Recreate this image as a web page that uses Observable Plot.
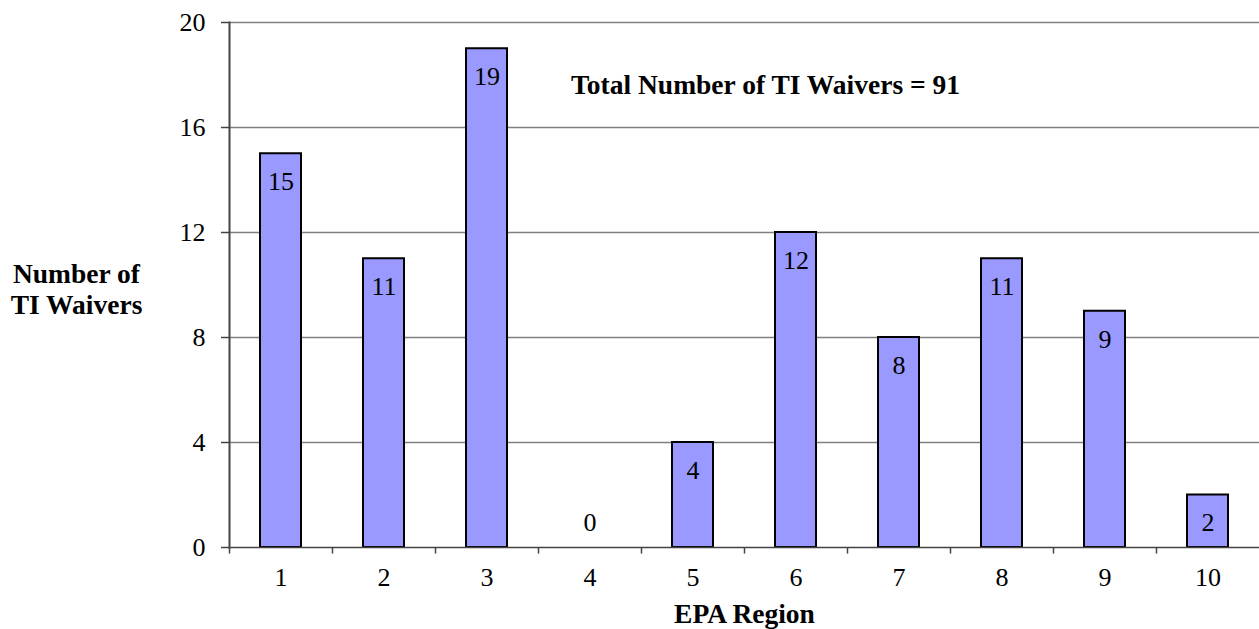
<!DOCTYPE html>
<html>
<head>
<meta charset="utf-8">
<script src="https://cdn.jsdelivr.net/npm/d3@7"></script>
<script src="https://cdn.jsdelivr.net/npm/@observablehq/plot@0.6"></script>
<style>
  html, body { margin: 0; padding: 0; background: #fff; }
  #chart svg { display: block; font-family: "Liberation Serif" !important; }
  #chart svg text, #chart svg g { font-family: "Liberation Serif" !important; }
</style>
</head>
<body>
<div id="chart"></div>
<script>
const regions = ["1","2","3","4","5","6","7","8","9","10"];
const waivers = [15, 11, 19, 0, 4, 12, 8, 11, 9, 2];
const yTicks = [0, 4, 8, 12, 16, 20];
const noteText = "Total Number of TI Waivers = 91";
const yTitle = ["Number of", "TI Waivers"];
const xTitle = "EPA Region";

const data = regions.map((r, i) => ({region: r, value: waivers[i]}));

const W = 1259, H = 629, mL = 229, mR = 0, mT = 22, mB = 82;
const halfStep = (W - mL - mR) / regions.length / 2;
const font = "Liberation Serif";
const fs = 26;
const fsb = 27.5;

const chart = Plot.plot({
  width: W, height: H,
  marginLeft: mL, marginRight: mR, marginTop: mT, marginBottom: mB,
  style: {fontFamily: font, fontSize: fs + "px", color: "#000", background: "#fff"},
  x: {domain: regions, paddingInner: 0.6, paddingOuter: 0.3, align: 0.5, label: null},
  y: {domain: [0, 20], label: null},
  marks: [
    Plot.ruleY(yTicks.filter(d => d > 0), {stroke: "#808080", strokeWidth: 1.5}),
    Plot.barY(data, {x: "region", y: "value", fill: "#9999ff", stroke: "#000", strokeWidth: 2}),
    Plot.text(data.filter(d => d.value > 0), {x: "region", y: "value", text: d => String(d.value), dy: 28, fontSize: fs, fontFamily: font, fill: "#000"}),
    Plot.text(data.filter(d => d.value === 0), {x: "region", y: "value", text: d => String(d.value), dy: -25, fontSize: fs, fontFamily: font, fill: "#000"}),
    Plot.ruleY([0], {stroke: "#444", strokeWidth: 1.5}),
    Plot.ruleX(regions, {x: d => d, y1: 0, y2: -0.25, dx: -halfStep, stroke: "#444", strokeWidth: 1.5}),
    Plot.axisY({ticks: yTicks, tickSize: 8, tickPadding: 16, tickFormat: d => String(d), fontSize: fs, fontFamily: font, stroke: "#444", strokeWidth: 1.5, label: null}),
    Plot.frame({anchor: "left", stroke: "#444", strokeWidth: 2}),
    Plot.axisX({tickSize: 0, tickPadding: 20, fontSize: fs, fontFamily: font, label: null, textAnchor: "middle"}),
    Plot.text([noteText], {frameAnchor: "top", dx: 21, dy: 63, lineAnchor: "middle", fontSize: fsb, fontFamily: font, fontWeight: "bold", fill: "#000"}),
    Plot.text([yTitle.join("\n")], {frameAnchor: "left", dx: -153, dy: 4, textAnchor: "middle", lineAnchor: "middle", lineHeight: 1.13, fontSize: fsb, fontFamily: font, fontWeight: "bold", fill: "#000"}),
    Plot.text([xTitle], {frameAnchor: "bottom", dy: 67, lineAnchor: "middle", fontSize: fsb, fontFamily: font, fontWeight: "bold", fill: "#000"})
  ]
});
document.getElementById("chart").appendChild(chart);
</script>
</body>
</html>
